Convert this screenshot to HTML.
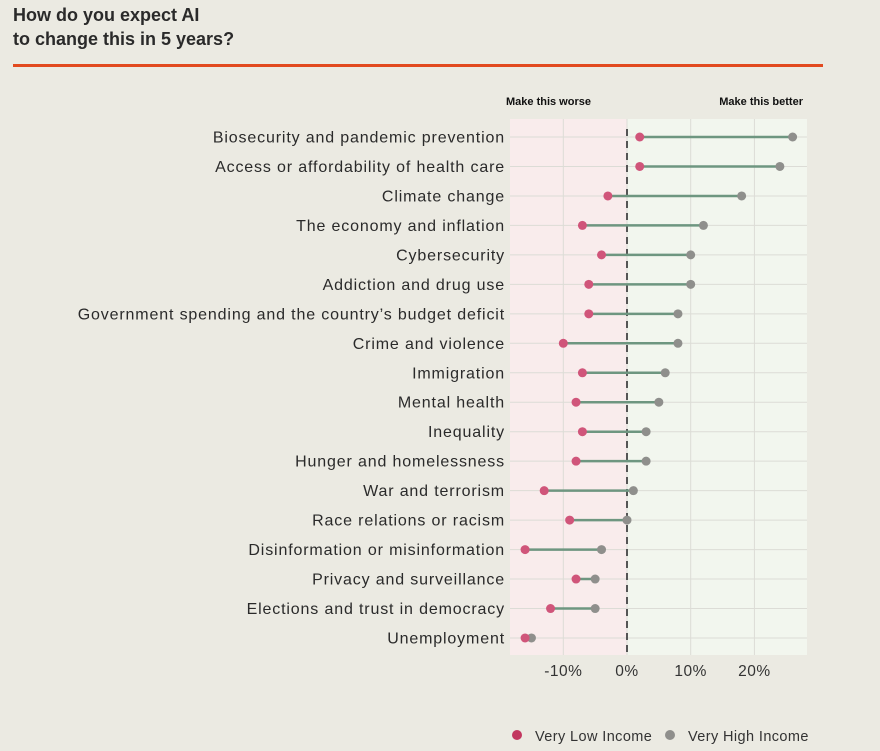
<!DOCTYPE html>
<html><head><meta charset="utf-8"><style>
body{margin:0;background:#ebeae2;font-family:"Liberation Sans",sans-serif;}
#wrap{position:relative;width:880px;height:751px;}
.title{position:absolute;left:13px;top:3px;font-size:18px;font-weight:bold;color:#2a2a2a;line-height:24px;}
.rule{position:absolute;left:13px;top:64px;width:810px;height:3px;background:#e24a1f;}
</style></head><body>
<div id="wrap">
<div class="title">How do you expect AI<br>to change this in 5 years?</div>
<div class="rule"></div>
<svg id="chart" width="880" height="751" style="position:absolute;left:0;top:0"></svg>
</div>
<script>
const categories=["Biosecurity and pandemic prevention","Access or affordability of health care","Climate change","The economy and inflation","Cybersecurity","Addiction and drug use","Government spending and the country’s budget deficit","Crime and violence","Immigration","Mental health","Inequality","Hunger and homelessness","War and terrorism","Race relations or racism","Disinformation or misinformation","Privacy and surveillance","Elections and trust in democracy","Unemployment"];
const lowIncome=[2,2,-3,-7,-4,-6,-6,-10,-7,-8,-7,-8,-13,-9,-16,-8,-12,-16];
const highIncome=[26,24,18,12,10,10,8,8,6,5,3,3,1,0,-4,-5,-5,-15];
const tickValues=[-10,0,10,20];
const tickLabels=["-10%","0%","10%","20%"];
const NS="http://www.w3.org/2000/svg";
const svg=document.getElementById('chart');
const L=510,R=807,T=119,B=655;
const x=v=>627+v*6.37;
const y=i=>137+i*29.47;
function mk(t,a,p){const e=document.createElementNS(NS,t);for(const k in a)e.setAttribute(k,a[k]);(p||svg).appendChild(e);return e;}
let e;
e=mk('rect',{x:L,y:T,width:x(0)-L,height:B-T,fill:'#f9ecec'});


e=mk('rect',{x:x(0),y:T,width:R-x(0),height:B-T,fill:'#f2f6ee'});


tickValues.forEach((v,i)=>{
 e=mk('line',{x1:x(v),x2:x(v),y1:T,y2:B,stroke:'#dcdcd6','stroke-width':1});
 
 
 e=mk('text',{x:x(v),y:676,'text-anchor':'middle','font-size':15.5,'letter-spacing':0.5,fill:'#333'});
 e.textContent=tickLabels[i];
 
 
});
categories.forEach((c,i)=>{
 e=mk('line',{x1:L,x2:R,y1:y(i),y2:y(i),stroke:'#dcdcd6','stroke-width':1});
 
 
 e=mk('text',{x:505,y:y(i)+5.5,'text-anchor':'end','font-size':16,'letter-spacing':0.85,fill:'#2a2a2a'});
 e.textContent=c;
 
 
});
e=mk('line',{x1:x(0),x2:x(0),y1:T+10,y2:B,stroke:'#555','stroke-width':2,'stroke-dasharray':'7,5'});


categories.forEach((c,i)=>{
 e=mk('line',{x1:x(lowIncome[i]),x2:x(highIncome[i]),y1:y(i),y2:y(i),stroke:'#6e9680','stroke-width':2.5});
 
 
 e=mk('circle',{cx:x(highIncome[i]),cy:y(i),r:4.5,fill:'#8f8f8c'});
 
 
 e=mk('circle',{cx:x(lowIncome[i]),cy:y(i),r:4.5,fill:'#d0557a'});
 
 
});
e=mk('text',{x:506,y:105,'font-size':11,'font-weight':'bold',fill:'#111'});
e.textContent='Make this worse';


e=mk('text',{x:803,y:105,'text-anchor':'end','font-size':11,'font-weight':'bold',fill:'#111'});
e.textContent='Make this better';


e=mk('circle',{cx:517,cy:735,r:5,fill:'#c2365f'});


e=mk('text',{x:535,y:741,'font-size':14.5,'letter-spacing':0.4,fill:'#333'});
e.textContent='Very Low Income';


e=mk('circle',{cx:670,cy:735,r:5,fill:'#8f8f8c'});


e=mk('text',{x:688,y:741,'font-size':14.5,'letter-spacing':0.4,fill:'#333'});
e.textContent='Very High Income';


</script>
</body></html>
